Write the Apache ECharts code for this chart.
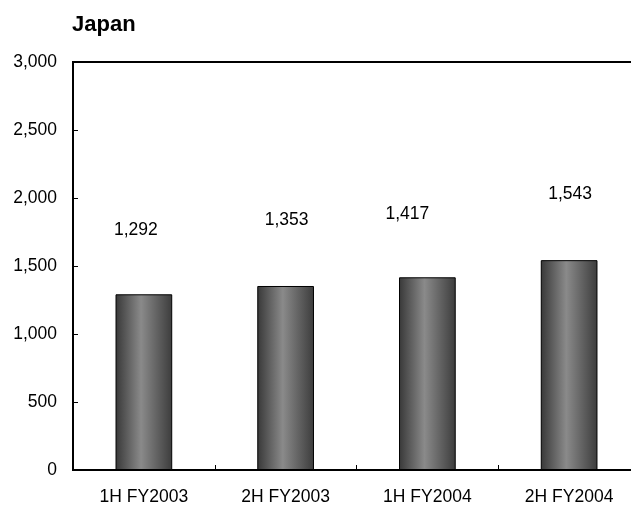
<!DOCTYPE html>
<html>
<head>
<meta charset="utf-8">
<script src="https://cdn.jsdelivr.net/npm/echarts@6/dist/echarts.min.js"></script>
<style>
html,body{margin:0;padding:0;background:#fff;}
#chart{width:631px;height:512px;}
</style>
</head>
<body>
<div id="chart"></div>
<script>
var titleText = 'Japan';
var categories = ['1H FY2003', '2H FY2003', '1H FY2004', '2H FY2004'];
var values = [1292, 1353, 1417, 1543];
var yMin = 0, yMax = 3000, yStep = 500;

var chart = echarts.init(document.getElementById('chart'), null, {renderer: 'canvas'});
var fontFam = '"Liberation Sans", Arial, sans-serif';
function fmt(v) { return v.toString().replace(/\B(?=(\d{3})+(?!\d))/g, ','); }

// label nudges (style only), as in the original layout
var labelNudge = [[-8, 2], [1, 0], [-20, 3], [1, 0]];

chart.setOption({
  animation: false,
  backgroundColor: '#fff',
  title: {
    text: titleText,
    left: 72, top: 14, padding: 0,
    textStyle: {fontFamily: fontFam, fontSize: 22, fontWeight: 'bold', color: '#000'}
  },
  grid: {
    left: 73, right: -9, top: 62, bottom: 42,
    outerBoundsMode: 'none',
    containLabel: false,
    show: true, borderColor: '#000', borderWidth: 2, backgroundColor: 'transparent'
  },
  xAxis: {
    type: 'category',
    data: categories,
    axisLine: {show: true, lineStyle: {color: '#000', width: 2}},
    axisTick: {show: true, inside: true, length: 5, lineStyle: {color: '#000', width: 1}},
    axisLabel: {fontFamily: fontFam, fontSize: 17.5, color: '#000', margin: 18},
    splitLine: {show: false}
  },
  yAxis: {
    type: 'value',
    min: yMin, max: yMax, interval: yStep,
    axisLine: {show: true, lineStyle: {color: '#000', width: 2}},
    axisTick: {show: true, inside: true, length: 5, lineStyle: {color: '#000', width: 1}},
    axisLabel: {fontFamily: fontFam, fontSize: 17.5, color: '#000', margin: 16, formatter: fmt},
    splitLine: {show: false}
  },
  series: [{
    type: 'bar',
    data: values.map(function (v, i) {
      return {value: v, label: {offset: labelNudge[i]}};
    }),
    barWidth: '40%',
    itemStyle: {
      borderColor: '#000',
      borderWidth: 1,
      color: new echarts.graphic.LinearGradient(0, 0, 1, 0, [
        {offset: 0, color: '#383838'},
        {offset: 0.45, color: '#8a8a8a'},
        {offset: 1, color: '#3c3c3c'}
      ])
    },
    label: {
      show: true, position: 'top', distance: 57,
      fontFamily: fontFam, fontSize: 17.5, color: '#000',
      formatter: function (p) { return fmt(p.value); }
    }
  }]
});
</script>
</body>
</html>
